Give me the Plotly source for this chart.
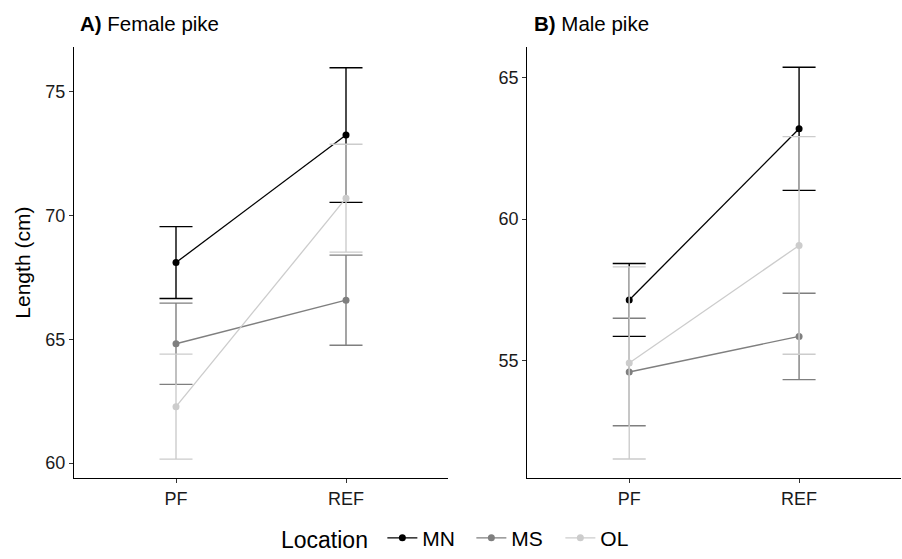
import plotly.graph_objects as go

categories = ["PF", "REF"]
locations = ["MN", "MS", "OL"]
colors = {"MN": "#000000", "MS": "#7f7f7f", "OL": "#cccccc"}

# Female pike (panel A): mean length and error (half-width)
female_mean = {"MN": [68.10, 73.25], "MS": [64.82, 66.58], "OL": [62.28, 70.70]}
female_err = {"MN": [1.45, 2.72], "MS": [1.64, 1.82], "OL": [2.12, 2.18]}

# Male pike (panel B)
male_mean = {"MN": [57.14, 63.20], "MS": [54.59, 55.85], "OL": [54.91, 59.07]}
male_err = {"MN": [1.29, 2.18], "MS": [1.90, 1.53], "OL": [3.40, 3.85]}

yticks_a = [60, 65, 70, 75]
yticks_b = [55, 60, 65]

FONT = "Liberation Sans, Arial, Helvetica, sans-serif"
W, H = 902, 559


def px_x(x):
    return x / W


def px_y(y):
    return 1 - y / H


fig = go.Figure()

for panel, (means, errs) in enumerate([(female_mean, female_err), (male_mean, male_err)]):
    xa = "x" if panel == 0 else "x2"
    ya = "y" if panel == 0 else "y2"
    for loc in locations:
        fig.add_trace(go.Scatter(
            x=categories, y=means[loc], xaxis=xa, yaxis=ya,
            mode="lines+markers", name=loc, legendgroup=loc,
            showlegend=(panel == 0),
            line=dict(color=colors[loc], width=1.3),
            marker=dict(color=colors[loc], size=7),
            error_y=dict(type="data", array=errs[loc], symmetric=True,
                         color=colors[loc], thickness=1.4, width=16.5),
        ))

axis_common = dict(showline=True, linecolor="#000000", linewidth=1.1,
                   ticks="outside", ticklen=4, tickcolor="#333333", tickwidth=1,
                   showgrid=False, zeroline=False, automargin=False,
                   tickfont=dict(family=FONT, size=18, color="#1a1a1a"))

fig.update_layout(
    width=W, height=H, template="none",
    paper_bgcolor="white", plot_bgcolor="white",
    margin=dict(l=0, r=0, t=0, b=0),
    font=dict(family=FONT, color="#000000"),
    xaxis=dict(domain=[px_x(74), px_x(448)], anchor="y", type="category",
               range=[-0.6, 1.6], **axis_common),
    yaxis=dict(domain=[px_y(484), px_y(48)], anchor="x", range=[59.40, 76.79],
               tickvals=yticks_a, ticktext=[str(v) for v in yticks_a], **axis_common),
    xaxis2=dict(domain=[px_x(527.3), px_x(901)], anchor="y2", type="category",
                range=[-0.6, 1.6], **axis_common),
    yaxis2=dict(domain=[px_y(484), px_y(48)], anchor="x2", range=[50.84, 66.08],
                tickvals=yticks_b, ticktext=[str(v) for v in yticks_b], **axis_common),
    legend=dict(orientation="h", x=px_x(279), xanchor="left", y=px_y(545), yanchor="middle",
                bgcolor="rgba(0,0,0,0)", entrywidth=44,
                font=dict(family=FONT, size=21, color="#000000"),
                title=dict(text="Location&nbsp;", side="left",
                           font=dict(family=FONT, size=23, color="#000000"))),
    annotations=[
        dict(text="<b>A)</b> Female pike", xref="paper", yref="paper",
             x=px_x(78), y=px_y(24), xanchor="left", yanchor="middle", showarrow=False,
             font=dict(family=FONT, size=20.5, color="#000000")),
        dict(text="<b>B)</b> Male pike", xref="paper", yref="paper",
             x=px_x(532), y=px_y(24), xanchor="left", yanchor="middle", showarrow=False,
             font=dict(family=FONT, size=20.5, color="#000000")),
        dict(text="Length (cm)", xref="paper", yref="paper",
             x=px_x(23), y=px_y(266), xanchor="center", yanchor="middle", showarrow=False,
             textangle=-90, font=dict(family=FONT, size=21, color="#000000")),
    ],
)

post = """
document.documentElement.style.margin = '0';
document.documentElement.style.overflow = 'hidden';
document.body.style.margin = '0';
document.body.style.overflow = 'hidden';
var gd = document.querySelector('.plotly-graph-div');
gd.style.position = 'fixed';
gd.style.left = '0px';
gd.style.top = '0px';
"""

fig.write_html("out.html", config={"displayModeBar": False}, post_script=post)
